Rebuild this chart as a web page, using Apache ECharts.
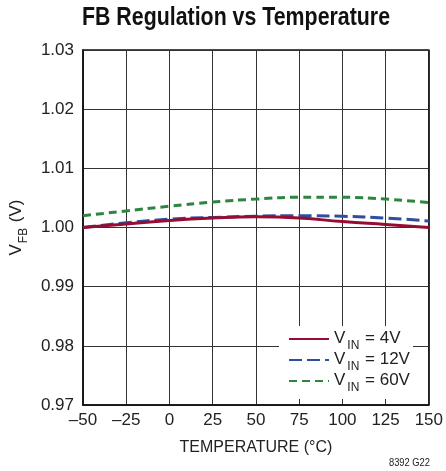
<!DOCTYPE html>
<html><head><meta charset="utf-8">
<script src="https://cdn.jsdelivr.net/npm/echarts@6/dist/echarts.min.js"></script>
<style>html,body{margin:0;padding:0;background:#fff}#c{width:446px;height:471px}</style>
</head><body><div id="c"></div>
<script>
var temps = [-50, -25, 0, 25, 50, 75, 100, 125, 150];
var vin4 = [1.0000, 1.0006, 1.0012, 1.0016, 1.0018, 1.0016, 1.0010, 1.0005, 1.0000];
var vin12 = [1.0000, 1.0008, 1.0014, 1.0017, 1.0019, 1.0020, 1.0019, 1.0016, 1.0011];
var vin60 = [1.0020, 1.0028, 1.0036, 1.0043, 1.0048, 1.0051, 1.0051, 1.0048, 1.0042];
var seriesNames = ['4V', '12V', '60V'];
var FONT = "'Liberation Sans','Arial',sans-serif";
function pairs(v){ return temps.map(function(t,i){return [t, v[i]];}); }
var chart = echarts.init(document.getElementById('c'));
chart.setOption({
  animation: false,
  textStyle: {fontFamily: FONT, color: '#222'},
  grid: {left: 80, right: 14, top: 50, bottom: 66, show: true, borderColor: '#111', borderWidth: 1.5},
  graphic: [
    {type: 'rect', z: 1, shape: {x: 279, y: 326, width: 134, height: 73}, style: {fill: '#fff'}},
    {type: 'text', x: 236, y: 6, scaleX: 0.854, z: 10,
      style: {text: 'FB Regulation vs Temperature', textAlign: 'center', fontSize: 25, fontWeight: 'bold', fontFamily: FONT, fill: '#111'}},
    {type: 'text', x: 430, y: 457, scaleX: 0.85, z: 10,
      style: {text: '8392 G22', textAlign: 'right', fontSize: 11, fontFamily: FONT, fill: '#222'}}
  ],
  legend: {orient: 'vertical', left: 283, top: 325, itemWidth: 40, itemHeight: 14, itemGap: -1, z: 5,
    data: seriesNames,
    itemStyle: {opacity: 0},
    formatter: function(n){ return '{a|V}{b|IN}{a| = ' + n + '}'; },
    textStyle: {fontFamily: FONT, fontSize: 17, color: '#222',
      rich: {a: {fontFamily: FONT, fontSize: 17, color: '#222', verticalAlign: 'bottom', lineHeight: 16},
             b: {fontFamily: FONT, fontSize: 12, color: '#222', verticalAlign: 'bottom', lineHeight: 16, padding: [0, 1, -5, 2]}}}},
  xAxis: {type: 'value', min: -50, max: 150, interval: 25,
    name: 'TEMPERATURE (°C)', nameLocation: 'middle', nameGap: 35,
    nameTextStyle: {fontFamily: FONT, fontSize: 16, color: '#222'},
    axisLine: {onZero: false, lineStyle: {color: '#111', width: 1.5}},
    axisTick: {show: false},
    axisLabel: {fontFamily: FONT, fontSize: 17, color: '#222', margin: 7,
      formatter: function(v){ return String(v).replace('-', '\u2013'); }},
    splitLine: {lineStyle: {color: '#333', width: 1}}},
  yAxis: {type: 'value', min: 0.97, max: 1.03, interval: 0.01,
    name: '{a|V}{b|FB}{a| (V)}', nameLocation: 'middle', nameGap: 56,
    nameTextStyle: {fontFamily: FONT, fontSize: 17, color: '#222',
      rich: {a: {fontFamily: FONT, fontSize: 17, color: '#222', verticalAlign: 'bottom', lineHeight: 18},
             b: {fontFamily: FONT, fontSize: 12, color: '#222', verticalAlign: 'bottom', lineHeight: 18, padding: [0, 1, -5, 1]}}},
    axisLine: {onZero: false, lineStyle: {color: '#111', width: 1.5}},
    axisTick: {show: false},
    axisLabel: {fontFamily: FONT, fontSize: 17, color: '#222', margin: 9,
      formatter: function(v){ return v.toFixed(2); }},
    splitLine: {lineStyle: {color: '#333', width: 1}}},
  series: [
    {name: '4V', type: 'line', smooth: true, showSymbol: false, symbol: 'none', z: 4, data: pairs(vin4),
      lineStyle: {color: '#960C32', width: 3, type: 'solid'}, itemStyle: {color: '#960C32'}},
    {name: '12V', type: 'line', smooth: true, showSymbol: false, symbol: 'none', z: 3, data: pairs(vin12),
      lineStyle: {color: '#2F4EA0', width: 3, type: [13, 5]}, itemStyle: {color: '#2F4EA0'}},
    {name: '60V', type: 'line', smooth: true, showSymbol: false, symbol: 'none', z: 3, data: pairs(vin60),
      lineStyle: {color: '#2E8540', width: 3, type: [8, 5]}, itemStyle: {color: '#2E8540'}}
  ]
});
</script></body></html>
